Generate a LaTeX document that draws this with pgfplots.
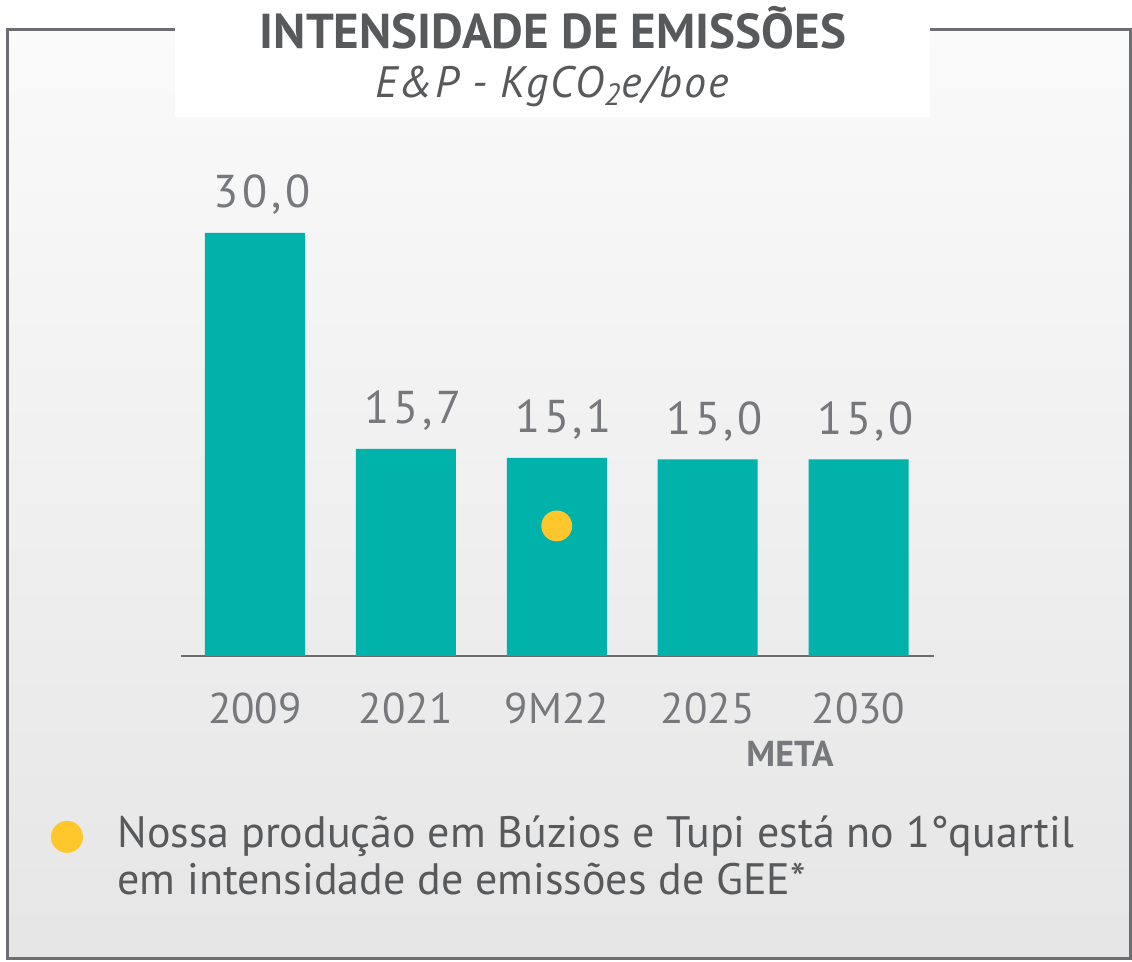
\documentclass[border=0pt]{standalone}
\usepackage{pgfplots}
\pgfplotsset{compat=1.18}
\usepackage{fontspec}
\setmainfont{PT Sans}
\definecolor{teal}{HTML}{00B2A9}
\definecolor{gold}{HTML}{FFC72C}
\definecolor{darkgray}{HTML}{58595B}
\definecolor{numgray}{HTML}{76787B}
\definecolor{framegray}{HTML}{6D6E71}

\begin{document}
\begin{tikzpicture}
% canvas 1132 x 960 px, 1 px = 0.5pt
\fill[white] (0,0) rectangle (566pt,480pt);
\begin{scope}[x=0.5pt,y=-0.5pt,shift={(0,480pt)}]
  \shade[top color=white!98!black, bottom color=white!90!black]
    (7,28) rectangle (1130,957);
  \draw[framegray, line width=1.5pt] (7,28) rectangle (1130,957);
  \fill[white] (175,0) rectangle (930,115);
  \node[anchor=base, font=\bfseries\fontsize{24.5}{28}\selectfont, text=darkgray]
    at (553,47) {INTENSIDADE DE EMISSÕES};
  \node[anchor=base, font=\itshape\fontsize{22}{26}\selectfont\addfontfeature{LetterSpace=4}, text=darkgray]
    at (552,96) {E\&P - KgCO\textsubscript{2}e/boe};
  \node[anchor=base, font=\bfseries\fontsize{18}{22}\selectfont, text=numgray]
    at (790,765) {META};
  \fill[gold] (67,835) circle (16);
  \node[anchor=base west, inner sep=0, font=\fontsize{22}{26}\selectfont, text=darkgray]
    at (117,846) {Nossa produção em Búzios e Tupi está no 1°quartil};
  \node[anchor=base west, inner sep=0, font=\fontsize{22}{26}\selectfont, text=darkgray]
    at (117,893) {em intensidade de emissões de GEE*};
\end{scope}

\begin{axis}[
  at={(90.5pt,153pt)}, anchor=south west,
  scale only axis, width=376.5pt, height=256.8pt,
  xmin=-0.49, xmax=4.5, ymin=2, ymax=36,
  axis x line=bottom, axis y line=none,
  x axis line style={-, framegray, line width=1pt},
  xtick=data, xticklabels={2009,2021,9M22,2025,2030},
  major tick length=0pt,
  xticklabel style={anchor=base, yshift=-34pt, text=numgray,
    font=\fontsize{21.5}{26}\selectfont},
  /pgf/number format/assume math mode=true,
  clip=false,
]
\addplot[ybar, bar width=50pt, fill=teal, draw=none, bar shift=0pt,
  nodes near coords={\pgfmathprintnumber[fixed,fixed zerofill,precision=1,use comma]{\pgfplotspointmeta}},
  every node near coord/.append style={anchor=base, yshift=12.5pt, xshift=3.5pt, text=numgray,
    font=\fontsize{23}{27}\selectfont\addfontfeature{LetterSpace=8}}]
coordinates {(0,30.0) (1,15.7) (2,15.1) (3,15.0) (4,15.0)};
\addplot[only marks, mark=*, mark size=7.5pt, gold, mark options={draw=none, fill=gold}]
coordinates {(2,10.6)};
\end{axis}
\end{tikzpicture}
\end{document}
